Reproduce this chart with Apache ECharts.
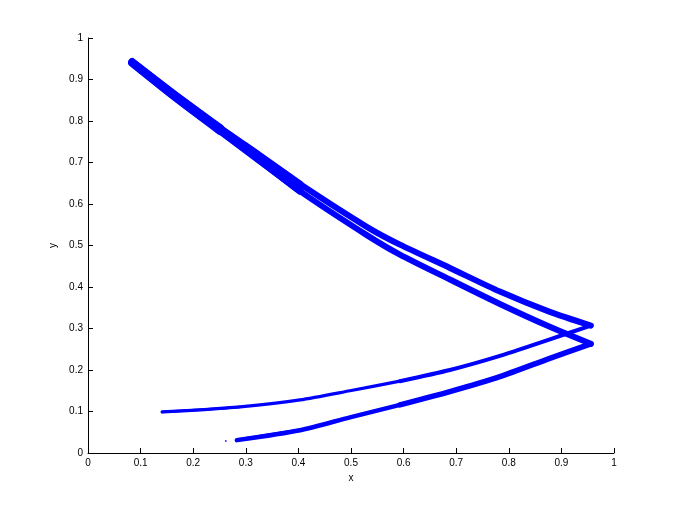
<!DOCTYPE html>
<html>
<head>
<meta charset="utf-8">
<script src="https://cdn.jsdelivr.net/npm/echarts@6/dist/echarts.min.js"></script>
<style>html,body{margin:0;padding:0;background:#fff}#chart{width:680px;height:510px}</style>
</head>
<body>
<div id="chart"></div>
<script>
// Tick values
const xTicks = [0, 0.1, 0.2, 0.3, 0.4, 0.5, 0.6, 0.7, 0.8, 0.9, 1];
const yTicks = [0, 0.1, 0.2, 0.3, 0.4, 0.5, 0.6, 0.7, 0.8, 0.9, 1];

// Band traced from the top-left down to the upper tip
const upperInbound = [
  [0.084, 0.942], [0.165, 0.863], [0.251, 0.783], [0.327, 0.716], [0.403, 0.648],
  [0.530, 0.545], [0.593, 0.502], [0.688, 0.446], [0.783, 0.389], [0.878, 0.340], [0.956, 0.307]
];
// Band traced from the top-left down to the lower tip
const lowerInbound = [
  [0.084, 0.940], [0.165, 0.858], [0.251, 0.776], [0.327, 0.704], [0.403, 0.631],
  [0.530, 0.525], [0.593, 0.478], [0.688, 0.418], [0.783, 0.359], [0.878, 0.304], [0.956, 0.263]
];
// Band from the upper tip back to the left (ends near y = 0.1)
const upperReturn = [
  [0.956, 0.307], [0.878, 0.274], [0.783, 0.234], [0.688, 0.200], [0.593, 0.173],
  [0.498, 0.150], [0.403, 0.128], [0.289, 0.111], [0.213, 0.104], [0.141, 0.099]
];
// Band from the lower tip back to the left (ends near y = 0.03)
const lowerReturn = [
  [0.956, 0.263], [0.878, 0.228], [0.783, 0.184], [0.688, 0.148], [0.593, 0.116],
  [0.498, 0.086], [0.403, 0.055], [0.283, 0.031]
];
const strayPoints = [[0.262, 0.029]];

const BLUE = '#0000ff';
function seg(data, width) {
  return {
    type: 'line', data: data, showSymbol: false, symbol: 'none', silent: true,
    smooth: 0.25,
    lineStyle: { color: BLUE, width: width, cap: 'round', join: 'round' },
    z: 2
  };
}
const series = [
  seg(upperInbound.slice(0, 3), 8),
  seg(lowerInbound.slice(0, 3), 8),
  seg(upperInbound.slice(0, 5), 7),
  seg(lowerInbound.slice(0, 5), 7),
  seg(upperInbound, 6),
  seg(lowerInbound, 6),
  seg(upperReturn.slice(0, 5), 4),
  seg(upperReturn.slice(4), 3.3),
  seg(upperReturn.slice(7), 2.5),
  seg(lowerReturn.slice(0, 5), 5.5),
  seg(lowerReturn.slice(4), 4.5),
  seg(lowerReturn.slice(6), 3.2),
  { type: 'scatter', data: strayPoints, symbolSize: 2, itemStyle: { color: BLUE }, silent: true }
];

const axisFont = { fontFamily: 'Liberation Sans, Arial, sans-serif', fontSize: 10, color: '#000' };
const chart = echarts.init(document.getElementById('chart'), null, { renderer: 'canvas' });
chart.setOption({
  animation: false,
  backgroundColor: '#fff',
  grid: { left: 88, right: 66, top: 38, bottom: 57, containLabel: false },
  xAxis: {
    type: 'value', min: xTicks[0], max: xTicks[xTicks.length - 1], interval: 0.1,
    name: 'x', nameLocation: 'middle', nameGap: 20,
    nameTextStyle: axisFont,
    axisLine: { show: true, lineStyle: { color: '#000', width: 1 } },
    axisTick: { show: true, inside: true, length: 5, lineStyle: { color: '#000' } },
    axisLabel: Object.assign({ margin: 5, formatter: v => String(+v.toFixed(1)) }, axisFont),
    splitLine: { show: false }
  },
  yAxis: {
    type: 'value', min: yTicks[0], max: yTicks[yTicks.length - 1], interval: 0.1,
    name: 'y', nameLocation: 'middle', nameGap: 22, nameRotate: 90,
    nameTextStyle: axisFont,
    axisLine: { show: true, lineStyle: { color: '#000', width: 1 } },
    axisTick: { show: true, inside: true, length: 5, lineStyle: { color: '#000' } },
    axisLabel: Object.assign({ margin: 5, formatter: v => String(+v.toFixed(1)) }, axisFont),
    splitLine: { show: false }
  },
  series: series
});
</script>
</body>
</html>
